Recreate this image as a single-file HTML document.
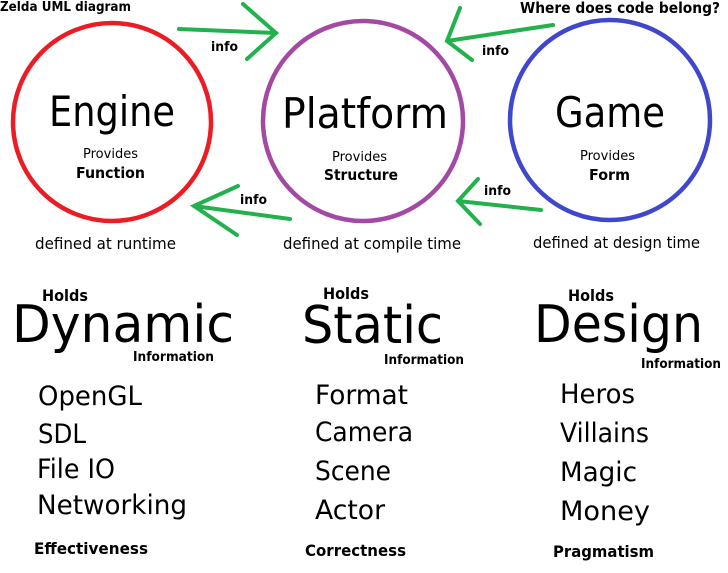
<!DOCTYPE html>
<html><head><meta charset="utf-8"><style>
html,body{margin:0;padding:0;background:#fff;width:728px;height:573px;overflow:hidden}
svg{display:block}
text{font-family:"DejaVu Sans","Liberation Sans",sans-serif;fill:#000}
.b{font-weight:bold}
</style></head><body>
<svg width="728" height="573" viewBox="0 0 728 573" xmlns="http://www.w3.org/2000/svg">
<circle cx="112" cy="122" r="99" fill="none" stroke="#ec1c24" stroke-width="4.5"/>
<circle cx="363" cy="121" r="100" fill="none" stroke="#a349a4" stroke-width="4.5"/>
<circle cx="610" cy="120" r="100" fill="none" stroke="#3f48cc" stroke-width="4.5"/>
<g stroke="#22b14c" stroke-width="4" fill="none" stroke-linecap="round">
<path d="M179 29 L276 33 M243 4 L276 33 L247 59"/>
<path d="M553 25 L447 41 M460 8 L447 41 L472 60"/>
<path d="M290 219 L194 206 M238 186 L194 206 L237 235"/>
<path d="M541 210 L458 201 M478 179 L458 201 L480 224"/>
</g>
<g>
<text class="b" x="0" y="11" font-size="13" textLength="131" lengthAdjust="spacingAndGlyphs">Zelda UML diagram</text>
<text class="b" x="520" y="13" font-size="15" textLength="200" lengthAdjust="spacingAndGlyphs">Where does  code belong?</text>
<text class="b" x="211" y="51" font-size="13" textLength="27" lengthAdjust="spacingAndGlyphs">info</text>
<text class="b" x="482" y="55" font-size="13" textLength="27" lengthAdjust="spacingAndGlyphs">info</text>
<text class="b" x="240" y="204" font-size="13" textLength="27" lengthAdjust="spacingAndGlyphs">info</text>
<text class="b" x="484" y="195" font-size="13" textLength="27" lengthAdjust="spacingAndGlyphs">info</text>

<text x="49" y="126" font-size="42" textLength="126" lengthAdjust="spacingAndGlyphs">Engine</text>
<text x="83" y="158" font-size="13" textLength="55" lengthAdjust="spacingAndGlyphs">Provides</text>
<text class="b" x="76" y="178" font-size="15" textLength="69" lengthAdjust="spacingAndGlyphs">Function</text>
<text x="282" y="128" font-size="42" textLength="166" lengthAdjust="spacingAndGlyphs">Platform</text>
<text x="332" y="161" font-size="13" textLength="55" lengthAdjust="spacingAndGlyphs">Provides</text>
<text class="b" x="324" y="180" font-size="15" textLength="74" lengthAdjust="spacingAndGlyphs">Structure</text>
<text x="555" y="127" font-size="42" textLength="110" lengthAdjust="spacingAndGlyphs">Game</text>
<text x="580" y="160" font-size="13" textLength="55" lengthAdjust="spacingAndGlyphs">Provides</text>
<text class="b" x="589" y="180" font-size="15" textLength="41" lengthAdjust="spacingAndGlyphs">Form</text>

<text x="35" y="249" font-size="16" textLength="141" lengthAdjust="spacingAndGlyphs">defined at runtime</text>
<text x="283" y="249" font-size="16" textLength="178" lengthAdjust="spacingAndGlyphs">defined at compile time</text>
<text x="533" y="248" font-size="16" textLength="167" lengthAdjust="spacingAndGlyphs">defined at design time</text>

<text class="b" x="42" y="301" font-size="16" textLength="46" lengthAdjust="spacingAndGlyphs">Holds</text>
<text x="12" y="342" font-size="52" textLength="222" lengthAdjust="spacingAndGlyphs">Dynamic</text>
<text class="b" x="133" y="361" font-size="13" textLength="81" lengthAdjust="spacingAndGlyphs">Information</text>
<text x="38" y="405" font-size="27" textLength="104" lengthAdjust="spacingAndGlyphs">OpenGL</text>
<text x="38" y="443" font-size="27" textLength="48" lengthAdjust="spacingAndGlyphs">SDL</text>
<text x="37" y="478" font-size="27" textLength="78" lengthAdjust="spacingAndGlyphs">File IO</text>
<text x="37" y="514" font-size="27" textLength="150" lengthAdjust="spacingAndGlyphs">Networking</text>
<text class="b" x="34" y="554" font-size="16" textLength="114" lengthAdjust="spacingAndGlyphs">Effectiveness</text>

<text class="b" x="323" y="299" font-size="16" textLength="46" lengthAdjust="spacingAndGlyphs">Holds</text>
<text x="302" y="343" font-size="52" textLength="141" lengthAdjust="spacingAndGlyphs">Static</text>
<text class="b" x="384" y="364" font-size="13" textLength="80" lengthAdjust="spacingAndGlyphs">Information</text>
<text x="315" y="404" font-size="27" textLength="93" lengthAdjust="spacingAndGlyphs">Format</text>
<text x="315" y="441" font-size="27" textLength="98" lengthAdjust="spacingAndGlyphs">Camera</text>
<text x="315" y="480" font-size="27" textLength="76" lengthAdjust="spacingAndGlyphs">Scene</text>
<text x="315" y="519" font-size="27" textLength="70" lengthAdjust="spacingAndGlyphs">Actor</text>
<text class="b" x="305" y="556" font-size="16" textLength="101" lengthAdjust="spacingAndGlyphs">Correctness</text>

<text class="b" x="568" y="301" font-size="16" textLength="46" lengthAdjust="spacingAndGlyphs">Holds</text>
<text x="534" y="342" font-size="52" textLength="169" lengthAdjust="spacingAndGlyphs">Design</text>
<text class="b" x="641" y="368" font-size="13" textLength="80" lengthAdjust="spacingAndGlyphs">Information</text>
<text x="560" y="403" font-size="27" textLength="75" lengthAdjust="spacingAndGlyphs">Heros</text>
<text x="560" y="442" font-size="27" textLength="89" lengthAdjust="spacingAndGlyphs">Villains</text>
<text x="560" y="481" font-size="27" textLength="77" lengthAdjust="spacingAndGlyphs">Magic</text>
<text x="560" y="520" font-size="27" textLength="90" lengthAdjust="spacingAndGlyphs">Money</text>
<text class="b" x="553" y="557" font-size="16" textLength="101" lengthAdjust="spacingAndGlyphs">Pragmatism</text>
</g>
</svg>
</body></html>
